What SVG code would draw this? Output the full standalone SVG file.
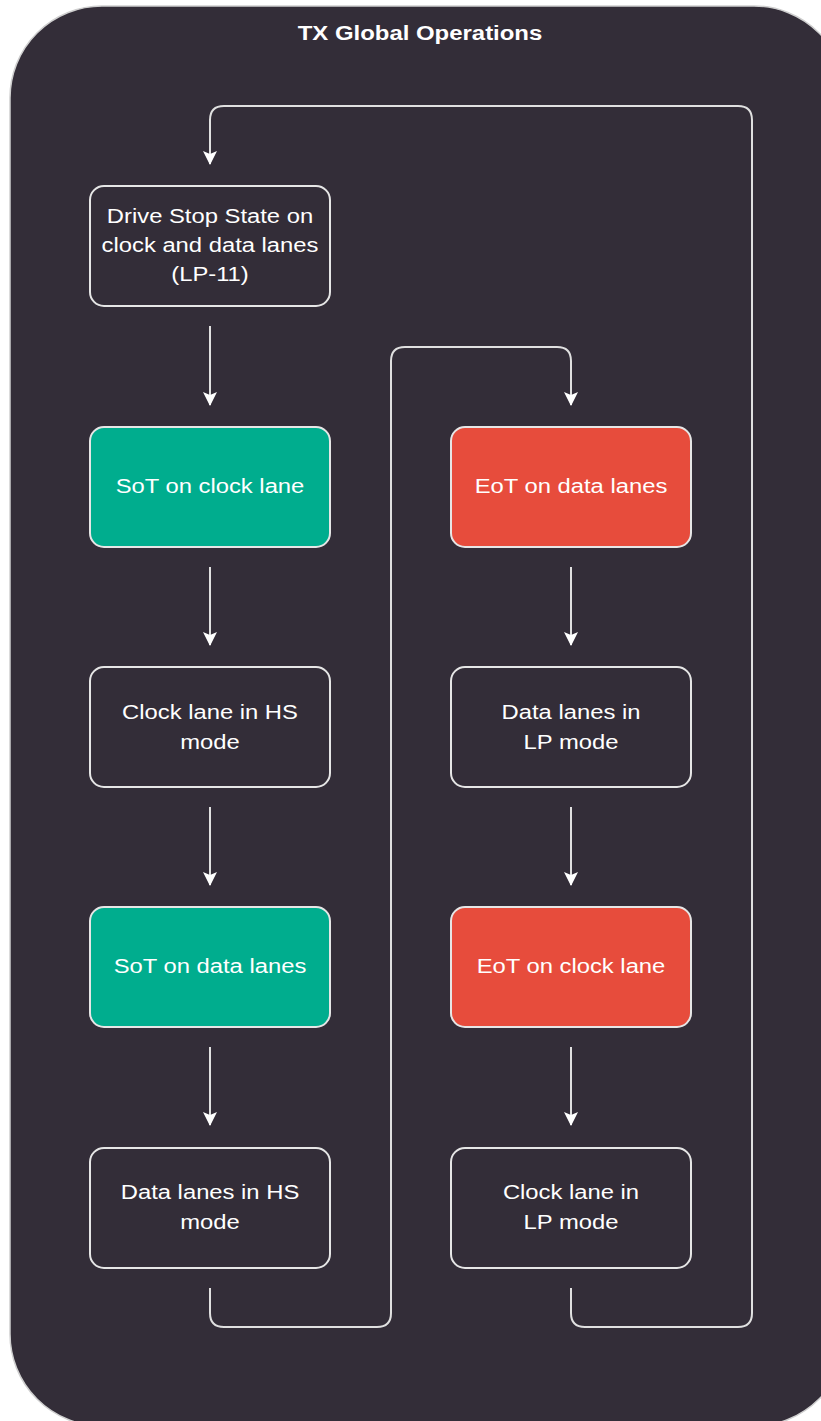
<svg xmlns="http://www.w3.org/2000/svg" width="821" height="1421" viewBox="0 0 821 1421">
<style>
.node rect{stroke:#e6e6e6;stroke-width:2}
.plain{fill:#332d38}
.teal{fill:#00ad8e}
.red{fill:#e74c3c}
text{font-family:"Liberation Sans",Arial,sans-serif;font-size:20px;fill:#ffffff;text-anchor:middle}
.conn path{fill:none;stroke:#e0e0e0;stroke-width:2}
</style>
<defs>
<marker id="ah" viewBox="0 0 14 14" refX="13" refY="7" markerWidth="14" markerHeight="14" markerUnits="userSpaceOnUse" orient="auto">
<path d="M0,0 L14,7 L0,14 L3,7 Z" fill="#ffffff"/>
</marker>
</defs>
<rect width="821" height="1421" fill="#ffffff"/>
<g id="container">
<rect x="10" y="6" width="836" height="1420" rx="92" ry="92" fill="#332d38" stroke="#cfcfcf" stroke-width="1.5"/>
<g transform="translate(420 0) scale(1.14 1)"><text x="0" y="40" style="font-weight:bold;font-size:21px">TX Global Operations</text></g>
</g>
<g class="conn" id="connectors">
<path d="M210,326 V405" marker-end="url(#ah)"/>
<path d="M210,567 V645" marker-end="url(#ah)"/>
<path d="M210,807 V885" marker-end="url(#ah)"/>
<path d="M210,1047 V1125" marker-end="url(#ah)"/>
<path d="M571,567 V645" marker-end="url(#ah)"/>
<path d="M571,807 V885" marker-end="url(#ah)"/>
<path d="M571,1047 V1125" marker-end="url(#ah)"/>
<path d="M210,1288 V1313 Q210,1327 224,1327 H377 Q391,1327 391,1313 V361 Q391,347 405,347 H557 Q571,347 571,361 V405" marker-end="url(#ah)"/>
<path d="M571,1288 V1313 Q571,1327 585,1327 H738 Q752,1327 752,1313 V120 Q752,106 738,106 H224 Q210,106 210,120 V164" marker-end="url(#ah)"/>
</g>
<g class="node" id="n-stop"><rect class="plain" x="90" y="186" width="240" height="120" rx="14"/><g transform="translate(210 0) scale(1.19 1)"><text x="0" y="223">Drive Stop State on</text><text x="0" y="252">clock and data lanes</text><text x="0" y="281">(LP-11)</text></g></g>
<g class="node" id="n-sot-clk"><rect class="teal" x="90" y="427" width="240" height="120" rx="14"/><g transform="translate(210 0) scale(1.19 1)"><text x="0" y="493">SoT on clock lane</text></g></g>
<g class="node" id="n-clk-hs"><rect class="plain" x="90" y="667" width="240" height="120" rx="14"/><g transform="translate(210 0) scale(1.19 1)"><text x="0" y="719">Clock lane in HS</text><text x="0" y="749">mode</text></g></g>
<g class="node" id="n-sot-data"><rect class="teal" x="90" y="907" width="240" height="120" rx="14"/><g transform="translate(210 0) scale(1.19 1)"><text x="0" y="973">SoT on data lanes</text></g></g>
<g class="node" id="n-data-hs"><rect class="plain" x="90" y="1148" width="240" height="120" rx="14"/><g transform="translate(210 0) scale(1.19 1)"><text x="0" y="1199">Data lanes in HS</text><text x="0" y="1229">mode</text></g></g>
<g class="node" id="n-eot-data"><rect class="red" x="451" y="427" width="240" height="120" rx="14"/><g transform="translate(571 0) scale(1.19 1)"><text x="0" y="493">EoT on data lanes</text></g></g>
<g class="node" id="n-data-lp"><rect class="plain" x="451" y="667" width="240" height="120" rx="14"/><g transform="translate(571 0) scale(1.19 1)"><text x="0" y="719">Data lanes in</text><text x="0" y="749">LP mode</text></g></g>
<g class="node" id="n-eot-clk"><rect class="red" x="451" y="907" width="240" height="120" rx="14"/><g transform="translate(571 0) scale(1.19 1)"><text x="0" y="973">EoT on clock lane</text></g></g>
<g class="node" id="n-clk-lp"><rect class="plain" x="451" y="1148" width="240" height="120" rx="14"/><g transform="translate(571 0) scale(1.19 1)"><text x="0" y="1199">Clock lane in</text><text x="0" y="1229">LP mode</text></g></g>
</svg>
